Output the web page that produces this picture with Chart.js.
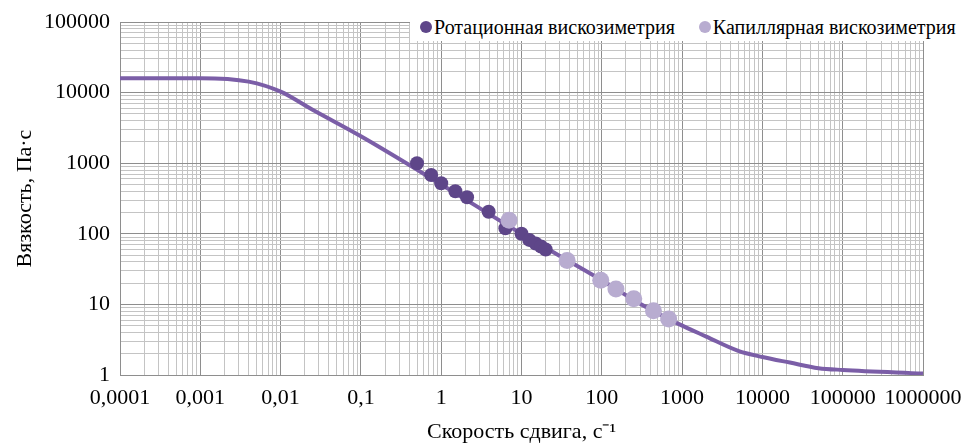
<!DOCTYPE html>
<html>
<head>
<meta charset="utf-8">
<script src="https://cdn.jsdelivr.net/npm/chart.js@4.4.1/dist/chart.umd.min.js"></script>
<style>
    html, body { margin: 0; padding: 0; background: #fff; }
    #wrap { position: relative; width: 963px; height: 448px; }
    #legend {
        position: absolute; left: 410px; top: 13px; width: 553px; height: 28px;
        background: #fff; font-family: 'Liberation Serif', 'Times New Roman', serif;
        font-size: 20px; color: #000; display: flex; align-items: center; white-space: nowrap;
    }
    #legend .item { display: flex; align-items: center; margin-right: 14px; }
    #legend .dot { width: 12px; height: 12px; border-radius: 50%; margin: 0 2px 0 10px; }
</style>
</head>
<body>
<div id="wrap">
    <canvas id="chart" width="963" height="448"></canvas>
    <div id="legend"></div>
</div>
<script>
// Data
const seriesNames = ['Ротационная вискозиметрия', 'Капиллярная вискозиметрия'];

const rotShear = [0.5, 0.75, 1, 1.5, 2.1, 3.9, 6.3, 10, 12.5, 15, 17.5, 20];
const rotVisc  = [1000, 680, 520, 400, 330, 205, 120, 100, 82, 73, 66, 60];

const capShear = [7, 37, 97, 150, 250, 440, 680];
const capVisc  = [155, 42, 22, 16.5, 12, 8.1, 6.2];

const modelShear = [0.0001, 0.001, 0.004, 0.01, 0.025, 0.1, 1, 10, 100, 300, 900, 2000, 5000, 10000, 22000, 50000, 100000, 1000000];
const modelVisc  = [16000, 16000, 14300, 10300, 5700, 2400, 500, 100, 22, 10.2, 5.3, 3.5, 2.2, 1.8, 1.5, 1.25, 1.18, 1.05];

const xTickValues = [0.0001, 0.001, 0.01, 0.1, 1, 10, 100, 1000, 10000, 100000, 1000000];
const xTickLabels = ['0,0001', '0,001', '0,01', '0,1', '1', '10', '100', '1000', '10000', '100000', '1000000'];
const yTickValues = [1, 10, 100, 1000, 10000, 100000];
const yTickLabels = ['1', '10', '100', '1000', '10000', '100000'];

const xTitle = 'Скорость сдвига, с⁻¹';
const yTitle = 'Вязкость, Па·с';

const colorLine = '#7b5ea7';
const colorRot = '#5e4689';
const colorCap = '#b8acd0';

function toPoints(xs, ys) {
    return xs.map((x, i) => ({ x: x, y: ys[i] }));
}

// gridlines at 1..9 x 10^n, like a log-paper axis
function logGrid(decades) {
    const ticks = [];
    for (let d = 0; d < decades.length - 1; d++) {
        for (let m = 1; m < 10; m++) ticks.push({ value: decades[d] * m });
    }
    ticks.push({ value: decades[decades.length - 1] });
    return ticks;
}

function decadeIndex(values, v) {
    return values.findIndex(d => Math.abs(d - v) / d < 1e-9);
}

function gridColor(values) {
    return ctx => decadeIndex(values, ctx.tick.value) >= 0 ? '#8e8e8e' : '#c4c4c4';
}

const font = { family: "'Liberation Serif', 'Times New Roman', serif", size: 22 };

const ctx = document.getElementById('chart').getContext('2d');
const chart = new Chart(ctx, {
    data: {
        datasets: [
            {
                type: 'scatter', label: seriesNames[1], data: toPoints(capShear, capVisc),
                backgroundColor: colorCap, borderWidth: 0, pointRadius: 8.5, order: 0
            },
            {
                type: 'scatter', label: seriesNames[0], data: toPoints(rotShear, rotVisc),
                backgroundColor: colorRot, borderWidth: 0, pointRadius: 7, order: 1
            },
            {
                type: 'line', label: 'model', data: toPoints(modelShear, modelVisc),
                borderColor: colorLine, borderWidth: 4, pointRadius: 0,
                cubicInterpolationMode: 'monotone', fill: false, order: 2
            }
        ]
    },
    options: {
        responsive: false,
        animation: false,
        layout: { padding: { top: 22, right: 40, left: 0, bottom: 0 } },
        plugins: { legend: { display: false }, tooltip: { enabled: false } },
        scales: {
            x: {
                type: 'logarithmic', min: 0.0001, max: 1000000,
                afterBuildTicks: s => { s.ticks = logGrid(xTickValues); },
                // keep the plot edge fixed, let the last label hang into the margin
                afterFit: s => { s.height = 73; s.paddingLeft = 0; s.paddingRight = 0; },
                grid: { color: gridColor(xTickValues), drawTicks: false },
                border: { color: '#8e8e8e' },
                ticks: {
                    autoSkip: false, maxRotation: 0, padding: 10, color: '#000', font: font,
                    callback: v => { const i = decadeIndex(xTickValues, v); return i >= 0 ? xTickLabels[i] : ''; }
                },
                title: { display: true, text: xTitle, color: '#000', font: font, padding: { top: 4, bottom: 3 } }
            },
            y: {
                type: 'logarithmic', min: 1, max: 100000,
                afterBuildTicks: s => { s.ticks = logGrid(yTickValues); },
                afterFit: s => { s.width = 120; s.paddingTop = 0; s.paddingBottom = 0; },
                grid: { color: gridColor(yTickValues), drawTicks: false },
                border: { color: '#8e8e8e' },
                ticks: {
                    autoSkip: false, padding: 10, color: '#000', font: font,
                    callback: v => { const i = decadeIndex(yTickValues, v); return i >= 0 ? yTickLabels[i] : ''; }
                },
                title: { display: true, text: yTitle, color: '#000', font: font, padding: { top: 12, bottom: 4 } }
            }
        }
    }
});

// HTML legend placed over the top of the plot, as in the reference
const legend = document.getElementById('legend');
[[seriesNames[0], colorRot], [seriesNames[1], colorCap]].forEach(([name, color]) => {
    const item = document.createElement('div');
    item.className = 'item';
    item.innerHTML = '<span class="dot" style="background:' + color + '"></span><span>' + name + '</span>';
    legend.appendChild(item);
});
</script>
</body>
</html>
